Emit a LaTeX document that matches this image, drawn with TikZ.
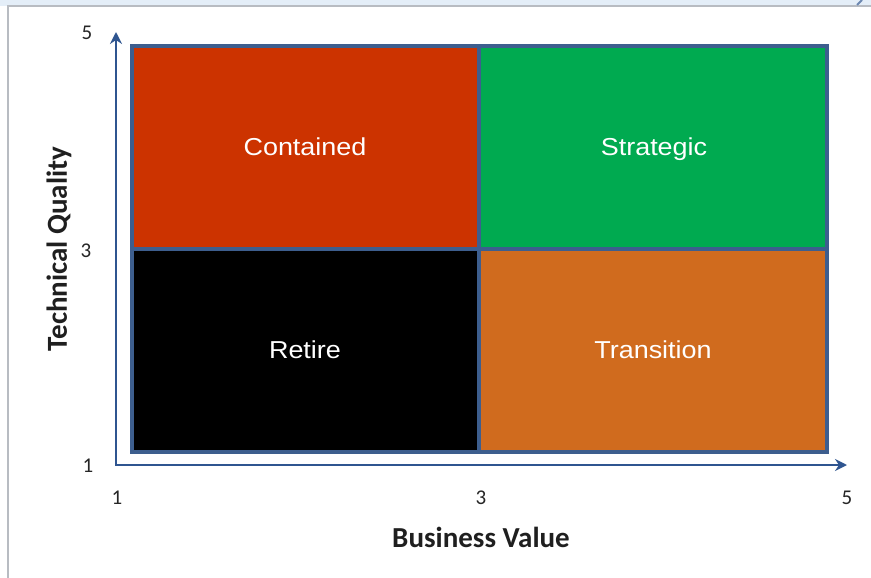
\documentclass[tikz,border=0pt]{standalone}
\usepackage{fontspec}
\setmainfont{Liberation Sans}
\newfontfamily\calfont{Carlito}
\usetikzlibrary{arrows.meta}
\definecolor{cred}{HTML}{CC3300}
\definecolor{cgreen}{HTML}{00AA50}
\definecolor{corange}{HTML}{D06B1E}
\definecolor{cborder}{HTML}{3D5E8E}
\definecolor{caxis}{HTML}{2F5590}
\definecolor{topband}{HTML}{E4EEF8}
\definecolor{framegray}{HTML}{B8BCC2}
\definecolor{ticktext}{HTML}{262626}
\newcommand{\qlabel}[1]{\scalebox{1.1}[1]{#1}}
\tikzset{
  quad/.style={draw=cborder, line width=4pt, minimum width=348pt, minimum height=203pt,
    inner sep=0pt, outer sep=0pt},
  qtext/.style={text=white, font=\fontsize{24.5}{28}\selectfont, inner sep=0pt, anchor=base},
  axisline/.style={draw=caxis, line width=2pt, line join=miter},
  tick/.style={text=ticktext, font=\calfont\fontsize{21}{24}\selectfont, inner sep=0pt},
  axistitle/.style={text=black!88, font=\calfont\bfseries\fontsize{29}{32}\selectfont, inner sep=0pt}
}
\begin{document}
\begin{tikzpicture}[x=1pt,y=-1pt]
\useasboundingbox (0,0) rectangle (871,578);
\fill[white] (0,0) rectangle (871,578);
\fill[topband] (0,0) rectangle (871,6);
\draw[framegray, line width=1.2pt] (8,578) -- (8,6) -- (871,6);
\draw[caxis!70, line width=2pt] (857,5) -- (862,0);
% quadrants
\node[quad, fill=cred] (contained) at (306,147.5) {};
\node[quad, fill=cgreen] (strategic) at (653,147.5) {};
\node[quad, fill=black] (retire) at (306,350) {};
\node[quad, fill=corange] (transition) at (653,350) {};
\node[qtext] (tcontained) at (305,155) {\qlabel{Contained}};
\node[qtext] (tstrategic) at (654,155) {\qlabel{Strategic}};
\node[qtext] (tretire) at (305,358.5) {\qlabel{Retire}};
\node[qtext] (ttransition) at (653,358.5) {\qlabel{Transition}};
% axes
\coordinate (O) at (116,465);
\coordinate (ytip) at (116,32);
\coordinate (xtip) at (847,465);
\draw[axisline, {Stealth[length=12pt,width=12pt,inset=4pt]}-{Stealth[length=12pt,width=12pt,inset=4pt]}] (ytip) -- (O) -- (xtip);
% tick labels
\node[tick] (y5) at (87,33) {5};
\node[tick] (y3) at (86,251) {3};
\node[tick] (y1) at (88,466) {1};
\node[tick] (x1) at (117,498) {1};
\node[tick] (x3) at (481,498) {3};
\node[tick] (x5) at (847,498) {5};
% titles
\node[axistitle] (xtitle) at (481,537) {Business Value};
\node[axistitle, rotate=90] (ytitle) at (59,249) {Technical Quality};
\end{tikzpicture}
\end{document}
